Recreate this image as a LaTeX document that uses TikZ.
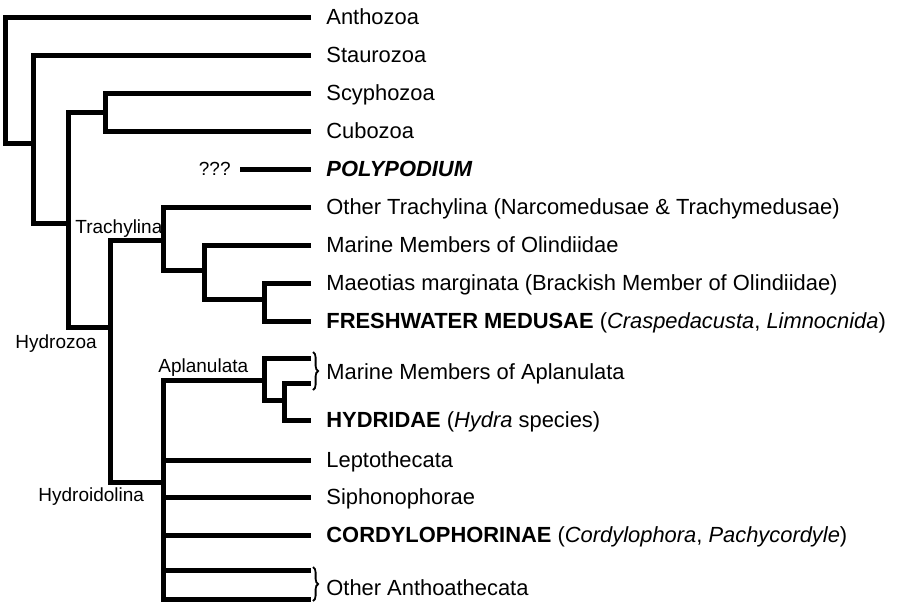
\documentclass[tikz,border=0pt]{standalone}
\usepackage{fontspec}
\setmainfont{Liberation Sans}
\usetikzlibrary{decorations.pathreplacing}
\begin{document}
\begin{tikzpicture}[x=0.5pt,y=-0.5pt,
  branch/.style={line width=2.5pt},
  taxon/.style={anchor=west,inner xsep=7.5pt,inner ysep=0pt,text height=7.9pt,text depth=0pt,
    font=\fontsize{10.95}{13}\selectfont},
  clade/.style={inner sep=0pt,anchor=base west,font=\fontsize{9.5}{11}\selectfont},
  grp/.style={decorate,decoration={brace,amplitude=2.6pt},line width=0.9pt}]
\useasboundingbox (0,0) rectangle (898,601);

% taxa
\node[taxon] (anth) at (311,17) {Anthozoa};
\node[taxon] (stau) at (311,55) {Staurozoa};
\node[taxon] (scyp) at (311,93) {Scyphozoa};
\node[taxon] (cubo) at (311,131) {Cubozoa};
\node[taxon] (poly) at (311,169) {\textbf{\textit{POLYPODIUM}}};
\node[taxon] (otra) at (311,207) {Other Trachylina (Narcomedusae \& Trachymedusae)};
\node[taxon] (moli) at (311,245) {Marine Members of Olindiidae};
\node[taxon] (maeo) at (311,283) {Maeotias marginata (Brackish Member of Olindiidae)};
\node[taxon] (fwm) at (311,321) {\textbf{FRESHWATER MEDUSAE} (\textit{Craspedacusta}, \textit{Limnocnida})};
\node[taxon] (mapl) at (311,372) {Marine Members of Aplanulata};
\node[taxon] (hydr) at (311,420) {\textbf{HYDRIDAE} (\textit{Hydra} species)};
\node[taxon] (lept) at (311,460) {Leptothecata};
\node[taxon] (siph) at (311,497) {Siphonophorae};
\node[taxon] (cord) at (311,535) {\textbf{CORDYLOPHORINAE} (\textit{Cordylophora}, \textit{Pachycordyle})};
\node[taxon] (oant) at (311,588) {Other Anthoathecata};

% clade names
\node[clade] (ltra) at (75,233) {Trachylina};
\node[clade] (lhyz) at (15,348) {Hydrozoa};
\node[clade] (lapl) at (158,372) {Aplanulata};
\node[clade] (lhyd) at (38,501) {Hydroidolina};
\node[clade,anchor=east,inner xsep=4.5pt] (unk) at (240,169) {???};

% branch points
\coordinate (root) at (5,143);
\coordinate (n1) at (33,143);
\coordinate (n2) at (68,223);
\coordinate (scc) at (105,112);
\coordinate (hyz) at (110,327);
\coordinate (tra) at (163,240);
\coordinate (oli) at (204,270);
\coordinate (fre) at (264,299);
\coordinate (hyd) at (163,482);
\coordinate (apl) at (264,380);
\coordinate (hda) at (284,400);
\coordinate (ap1) at (311,358);
\coordinate (ap2) at (311,383);
\coordinate (oa1) at (311,570);
\coordinate (oa2) at (311,599);
\coordinate (br1) at (313,352);
\coordinate (br2) at (313,390);
\coordinate (br3) at (313,567);
\coordinate (br4) at (313,601);

% tree
\draw[branch] (anth.west) -| (root) -- (n1);
\draw[branch] (stau.west) -| (n1) |- (n2);
\draw[branch] (scyp.west) -| (scc) |- (cubo.west);
\draw[branch] (scc) -| (n2) |- (hyz);
\draw[branch] (unk.east) -- (poly.west);
\draw[branch] (tra) -| (hyz) |- (hyd);
\draw[branch] (otra.west) -| (tra) |- (oli);
\draw[branch] (moli.west) -| (oli) |- (fre);
\draw[branch] (maeo.west) -| (fre) |- (fwm.west);
\draw[branch] (apl) -| (hyd) |- (oa2);
\foreach \t in {lept,siph,cord,oa1}
  \draw[branch] (hyd |- \t.west) -- (\t.west);
\draw[branch] (ap1) -| (apl) |- (hda);
\draw[branch] (ap2) -| (hda) |- (hydr.west);

% braces
\draw[grp] (br1) -- (br2);
\draw[grp] (br3) -- (br4);
\end{tikzpicture}
\end{document}
